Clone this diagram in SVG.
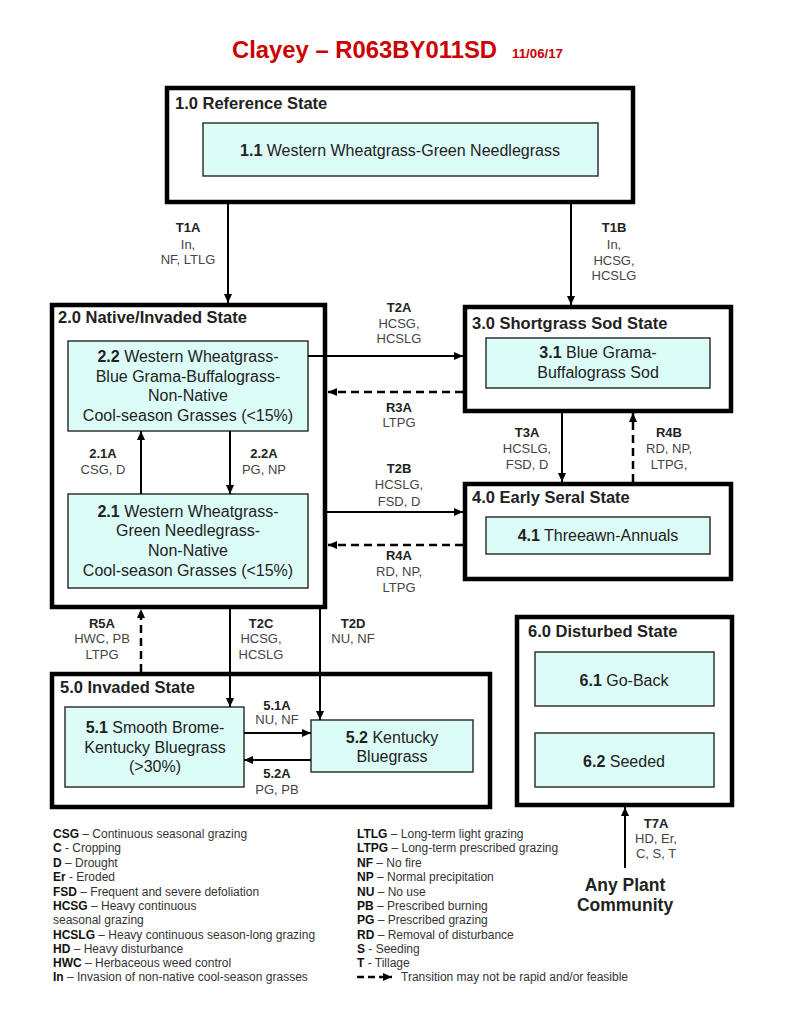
<svg xmlns="http://www.w3.org/2000/svg" width="800" height="1017" viewBox="0 0 800 1017">
<style>
text{font-family:"Liberation Sans",Arial,sans-serif;fill:#222}
.title{font-size:23.5px;font-weight:bold;fill:#cc0000}
.date{font-size:12.5px;font-weight:bold;fill:#cc0000}
.state{fill:#fff;stroke:#000;stroke-width:4.5}
.st{font-size:16.5px;font-weight:bold}
.comm{fill:#dcfcf8;stroke:#333;stroke-width:1.5}
.ct{font-size:16px;text-anchor:middle}
.b{font-weight:bold}
.lb{font-size:13px;text-anchor:middle;fill:#444}
.lb .b{fill:#222}
.solid{stroke:#000;stroke-width:2;fill:none;marker-end:url(#ah)}
.dash{stroke:#000;stroke-width:2.5;fill:none;stroke-dasharray:8 5;marker-end:url(#ah)}
.leg{font-size:12px;fill:#333}
.leg .b{fill:#111}
.apc{font-size:17.5px;font-weight:bold;text-anchor:middle}
</style>
<defs>
<marker id="ah" markerUnits="userSpaceOnUse" markerWidth="10" markerHeight="10" refX="9" refY="5" orient="auto">
<path d="M0,1 L9,5 L0,9 Z" fill="#000"/>
</marker>
</defs>
<rect width="800" height="1017" fill="#fff"/>
<g id="title">
<text class="title" x="232" y="58" textLength="265" lengthAdjust="spacingAndGlyphs">Clayey – R063BY011SD</text>
<text class="date" x="512" y="58" textLength="51" lengthAdjust="spacingAndGlyphs">11/06/17</text>
</g>
<g id="state1">
<rect class="state" x="167" y="88" width="466" height="114"/>
<text class="st" x="175" y="109">1.0 Reference State</text>
<rect class="comm" x="203" y="123" width="395" height="53"/>
<text class="ct" x="400" y="156"><tspan class="b">1.1</tspan> Western Wheatgrass-Green Needlegrass</text>
</g>
<g id="state2">
<rect class="state" x="52" y="305" width="273" height="302"/>
<text class="st" x="58" y="323">2.0 Native/Invaded State</text>
<rect class="comm" x="68" y="341" width="240" height="90"/>
<text class="ct" x="188" y="362"><tspan class="b">2.2</tspan> Western Wheatgrass-</text>
<text class="ct" x="188" y="382">Blue Grama-Buffalograss-</text>
<text class="ct" x="188" y="401">Non-Native</text>
<text class="ct" x="188" y="421">Cool-season Grasses (&lt;15%)</text>
<rect class="comm" x="68" y="494" width="240" height="94"/>
<text class="ct" x="188" y="517"><tspan class="b">2.1</tspan> Western Wheatgrass-</text>
<text class="ct" x="188" y="536">Green Needlegrass-</text>
<text class="ct" x="188" y="556">Non-Native</text>
<text class="ct" x="188" y="576">Cool-season Grasses (&lt;15%)</text>
</g>
<g id="state3">
<rect class="state" x="465" y="307" width="266" height="104"/>
<text class="st" x="472" y="329">3.0 Shortgrass Sod State</text>
<rect class="comm" x="486" y="338" width="224" height="50"/>
<text class="ct" x="598" y="358"><tspan class="b">3.1</tspan> Blue Grama-</text>
<text class="ct" x="598" y="378">Buffalograss Sod</text>
</g>
<g id="state4">
<rect class="state" x="465" y="484" width="266" height="95"/>
<text class="st" x="472" y="503">4.0 Early Seral State</text>
<rect class="comm" x="486" y="517" width="224" height="37"/>
<text class="ct" x="598" y="541"><tspan class="b">4.1</tspan> Threeawn-Annuals</text>
</g>
<g id="state5">
<rect class="state" x="52" y="674" width="438" height="133"/>
<text class="st" x="60" y="693">5.0 Invaded State</text>
<rect class="comm" x="65" y="707" width="179" height="80"/>
<text class="ct" x="155" y="733"><tspan class="b">5.1</tspan> Smooth Brome-</text>
<text class="ct" x="155" y="753">Kentucky Bluegrass</text>
<text class="ct" x="155" y="772">(&gt;30%)</text>
<rect class="comm" x="311" y="720" width="162" height="52"/>
<text class="ct" x="392" y="743"><tspan class="b">5.2</tspan> Kentucky</text>
<text class="ct" x="392" y="762">Bluegrass</text>
</g>
<g id="state6">
<rect class="state" x="517" y="617" width="215" height="188"/>
<text class="st" x="528" y="637">6.0 Disturbed State</text>
<rect class="comm" x="535" y="652" width="179" height="54"/>
<text class="ct" x="624" y="686"><tspan class="b">6.1</tspan> Go-Back</text>
<rect class="comm" x="535" y="733" width="179" height="54"/>
<text class="ct" x="624" y="767"><tspan class="b">6.2</tspan> Seeded</text>
</g>
<g id="any-plant-community">
<text class="apc" x="625" y="891">Any Plant</text>
<text class="apc" x="625" y="911">Community</text>
</g>
<g id="connectors">
<path class="solid" d="M228,204 V303"/>
<path class="solid" d="M571,204 V305"/>
<path class="solid" d="M308,356 H463"/>
<path class="dash" d="M463,392 H328"/>
<path class="solid" d="M327,512 H463"/>
<path class="dash" d="M463,545 H328"/>
<path class="solid" d="M141,494 V431"/>
<path class="solid" d="M230,431 V494"/>
<path class="solid" d="M562,413 V482"/>
<path class="dash" d="M633,482 V413"/>
<path class="dash" d="M141,672 V609"/>
<path class="solid" d="M230,609 V707"/>
<path class="solid" d="M320,609 V720"/>
<path class="solid" d="M244,733 H311"/>
<path class="solid" d="M311,760 H244"/>
<path class="solid" d="M625,868 V807"/>
</g>
<g id="connector-labels">
<text class="lb"><tspan class="b" x="188" y="232">T1A</tspan><tspan x="188" y="249">In,</tspan><tspan x="188" y="264">NF, LTLG</tspan></text>
<text class="lb"><tspan class="b" x="614" y="232">T1B</tspan><tspan x="614" y="249">In,</tspan><tspan x="614" y="265">HCSG,</tspan><tspan x="614" y="280">HCSLG</tspan></text>
<text class="lb"><tspan class="b" x="399" y="312">T2A</tspan><tspan x="399" y="328">HCSG,</tspan><tspan x="399" y="343">HCSLG</tspan></text>
<text class="lb"><tspan class="b" x="399" y="412">R3A</tspan><tspan x="399" y="427">LTPG</tspan></text>
<text class="lb"><tspan class="b" x="399" y="473">T2B</tspan><tspan x="399" y="489">HCSLG,</tspan><tspan x="399" y="506">FSD, D</tspan></text>
<text class="lb"><tspan class="b" x="399" y="560">R4A</tspan><tspan x="399" y="576">RD, NP,</tspan><tspan x="399" y="592">LTPG</tspan></text>
<text class="lb"><tspan class="b" x="103" y="458">2.1A</tspan><tspan x="103" y="474">CSG, D</tspan></text>
<text class="lb"><tspan class="b" x="264" y="458">2.2A</tspan><tspan x="264" y="474">PG, NP</tspan></text>
<text class="lb"><tspan class="b" x="527" y="437">T3A</tspan><tspan x="527" y="453">HCSLG,</tspan><tspan x="527" y="469">FSD, D</tspan></text>
<text class="lb"><tspan class="b" x="669" y="437">R4B</tspan><tspan x="669" y="453">RD, NP,</tspan><tspan x="669" y="469">LTPG,</tspan></text>
<text class="lb"><tspan class="b" x="102" y="628">R5A</tspan><tspan x="102" y="643">HWC, PB</tspan><tspan x="102" y="659">LTPG</tspan></text>
<text class="lb"><tspan class="b" x="261" y="628">T2C</tspan><tspan x="261" y="643">HCSG,</tspan><tspan x="261" y="659">HCSLG</tspan></text>
<text class="lb"><tspan class="b" x="353" y="628">T2D</tspan><tspan x="353" y="643">NU, NF</tspan></text>
<text class="lb"><tspan class="b" x="277" y="710">5.1A</tspan><tspan x="277" y="724">NU, NF</tspan></text>
<text class="lb"><tspan class="b" x="277" y="778">5.2A</tspan><tspan x="277" y="794">PG, PB</tspan></text>
<text class="lb"><tspan class="b" x="656" y="828">T7A</tspan><tspan x="656" y="843">HD, Er,</tspan><tspan x="656" y="858">C, S, T</tspan></text>
</g>
<g id="legend">
<text class="leg" x="53" y="838"><tspan class="b">CSG</tspan> – Continuous seasonal grazing</text>
<text class="leg" x="53" y="852"><tspan class="b">C</tspan> - Cropping</text>
<text class="leg" x="53" y="867"><tspan class="b">D</tspan> – Drought</text>
<text class="leg" x="53" y="881"><tspan class="b">Er</tspan> - Eroded</text>
<text class="leg" x="53" y="896"><tspan class="b">FSD</tspan> – Frequent and severe defoliation</text>
<text class="leg" x="53" y="910"><tspan class="b">HCSG</tspan> – Heavy continuous</text>
<text class="leg" x="53" y="924">seasonal grazing</text>
<text class="leg" x="53" y="939"><tspan class="b">HCSLG</tspan> – Heavy continuous season-long grazing</text>
<text class="leg" x="53" y="953"><tspan class="b">HD</tspan> – Heavy disturbance</text>
<text class="leg" x="53" y="967"><tspan class="b">HWC</tspan> – Herbaceous weed control</text>
<text class="leg" x="53" y="981"><tspan class="b">In</tspan> – Invasion of non-native cool-season grasses</text>
<text class="leg" x="357" y="838"><tspan class="b">LTLG</tspan> – Long-term light grazing</text>
<text class="leg" x="357" y="852"><tspan class="b">LTPG</tspan> – Long-term prescribed grazing</text>
<text class="leg" x="357" y="867"><tspan class="b">NF</tspan> – No fire</text>
<text class="leg" x="357" y="881"><tspan class="b">NP</tspan> – Normal precipitation</text>
<text class="leg" x="357" y="896"><tspan class="b">NU</tspan> – No use</text>
<text class="leg" x="357" y="910"><tspan class="b">PB</tspan> – Prescribed burning</text>
<text class="leg" x="357" y="924"><tspan class="b">PG</tspan> – Prescribed grazing</text>
<text class="leg" x="357" y="939"><tspan class="b">RD</tspan> – Removal of disturbance</text>
<text class="leg" x="357" y="953"><tspan class="b">S</tspan> - Seeding</text>
<text class="leg" x="357" y="967"><tspan class="b">T</tspan> - Tillage</text>
<path d="M357,977 H392" stroke="#000" stroke-width="2.5" stroke-dasharray="7 4" fill="none" marker-end="url(#ah)"/>
<text class="leg" x="401" y="981">Transition may not be rapid and/or feasible</text>
</g>
</svg>
